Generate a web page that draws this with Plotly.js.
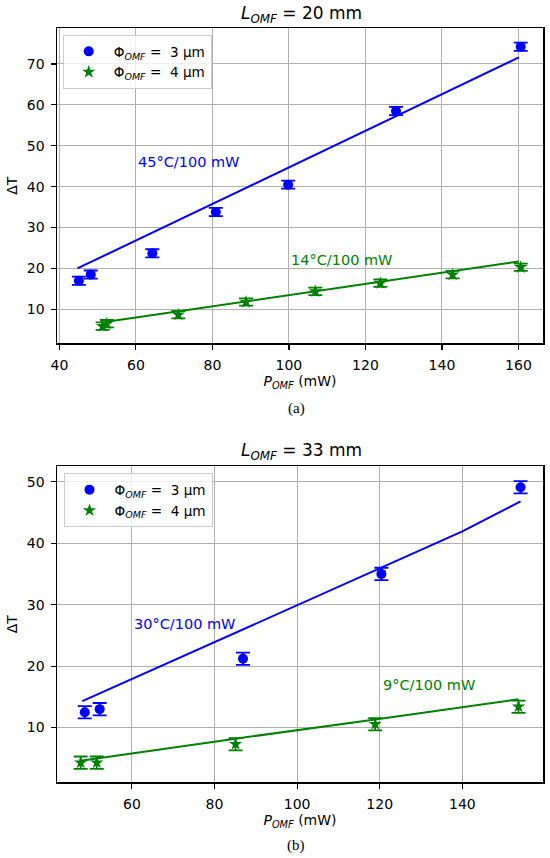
<!DOCTYPE html>
<html>
<head>
<meta charset="utf-8">
<script src="https://cdn.plot.ly/plotly-3.0.1.min.js"></script>
<style>html,body{margin:0;padding:0;background:#fff;}#chart{width:550px;height:858px;}</style>
</head>
<body>
<div id="chart"></div>
<script>
// ---------- data: L_OMF = 20 mm ----------
const p20_3   = [45.1, 48.2, 64.3, 80.9, 99.8, 128.0, 160.6];
const dt20_3  = [17.0, 18.5, 23.7, 33.8, 40.5, 58.5, 74.2];
const err20_3 = [1.0, 1.0, 1.0, 1.0, 1.0, 1.0, 1.0];
const p20_4   = [51.3, 52.4, 71.1, 88.8, 106.9, 123.9, 142.8, 160.6];
const dt20_4  = [5.9, 6.5, 8.7, 11.8, 14.4, 16.4, 18.5, 20.3];
const err20_4 = [0.9, 0.9, 0.9, 0.9, 0.9, 0.9, 0.9, 0.9];
const fitX20_3 = [44.7, 160.1];
const fitY20_3 = [20.0, 71.6];
const fitX20_4 = [51.9, 160.1];
const fitY20_4 = [6.9, 21.7];

// ---------- data: L_OMF = 33 mm ----------
const p33_3   = [48.6, 52.2, 86.9, 120.4, 154.1];
const dt33_3  = [12.5, 13.0, 21.2, 35.0, 49.1];
const err33_3 = [1.0, 1.0, 1.0, 1.0, 1.0];
const p33_4   = [47.6, 51.5, 85.1, 118.9, 153.6];
const dt33_4  = [4.3, 4.3, 7.3, 10.55, 13.4];
const err33_4 = [1.0, 1.0, 1.0, 1.0, 1.0];
const fitX33_3 = [48.0, 120.4, 140.0, 154.1];
const fitY33_3 = [14.3, 36.0, 41.9, 46.8];
const fitX33_4 = [47.6, 85.1, 118.9, 153.6];
const fitY33_4 = [4.6, 8.2, 11.3, 14.6];

// ---------- text ----------
const legendNames = ['Φ<sub><i>OMF</i></sub> =  3 µm', 'Φ<sub><i>OMF</i></sub> =  4 µm'];
const panelTitles = ['<i>L</i><sub><i>OMF</i></sub> = 20 mm', '<i>L</i><sub><i>OMF</i></sub> = 33 mm'];
const slopeLabels20 = ['45°C/100 mW', '14°C/100 mW'];
const slopeLabels33 = ['30°C/100 mW', '9°C/100 mW'];
const captions = ['(a)', '(b)'];
const xTitle = '<i>P</i><sub><i>OMF</i></sub> (mW)';
const yTitle = 'ΔT';

const BLUE = '#0000ff', GREEN = '#008000';
const FONT = 'DejaVu Sans, Arial, sans-serif';

function pts(x, y, e, color, symbol, size, name, xa, ya, leg) {
  return {
    x: x, y: y, type: 'scatter', mode: 'markers', name: name,
    xaxis: xa, yaxis: ya, legend: leg,
    marker: {color: color, symbol: symbol, size: size, line: {width: 0}},
    error_y: {type: 'data', array: e, visible: true, color: color, thickness: 1.8, width: 7}
  };
}
function fit(x, y, color, xa, ya) {
  return {x: x, y: y, type: 'scatter', mode: 'lines', showlegend: false,
    xaxis: xa, yaxis: ya, line: {color: color, width: 2}, hoverinfo: 'skip'};
}

const traces = [
  fit(fitX20_3, fitY20_3, BLUE, 'x', 'y'),
  fit(fitX20_4, fitY20_4, GREEN, 'x', 'y'),
  pts(p20_3, dt20_3, err20_3, BLUE, 'circle', 10, legendNames[0], 'x', 'y', 'legend'),
  pts(p20_4, dt20_4, err20_4, GREEN, 'star', 10, legendNames[1], 'x', 'y', 'legend'),
  fit(fitX33_3, fitY33_3, BLUE, 'x2', 'y2'),
  fit(fitX33_4, fitY33_4, GREEN, 'x2', 'y2'),
  pts(p33_3, dt33_3, err33_3, BLUE, 'circle', 10, legendNames[0], 'x2', 'y2', 'legend2'),
  pts(p33_4, dt33_4, err33_4, GREEN, 'star', 10, legendNames[1], 'x2', 'y2', 'legend2')
];

const W = 550, H = 858;
const xDom = [56.7 / W, 543.3 / W];
const yDomTop = [1 - 343.3 / H, 1 - 28 / H];
const yDomBot = [1 - 782.3 / H, 1 - 466 / H];
const TITLEFONT = {family: FONT, size: 14, color: '#000'};

function axis(extra) {
  return Object.assign({
    showline: true, mirror: true, linecolor: '#000', linewidth: 1.2,
    showgrid: true, gridcolor: '#b0b0b0', gridwidth: 1,
    zeroline: false, ticks: 'outside', ticklen: 5, tickwidth: 1.2, tickcolor: '#000',
    tickfont: {family: FONT, size: 14, color: '#000'}, automargin: false
  }, extra);
}

const legendStyle = {
  bgcolor: 'rgba(255,255,255,0.8)', bordercolor: '#cccccc', borderwidth: 1,
  font: {family: FONT, size: 13.6, color: '#000'}, xanchor: 'left', yanchor: 'top',
  tracegroupgap: 0, itemwidth: 40
};

const annFont = (c, s) => ({family: FONT, size: s, color: c});

const layout = {
  width: W, height: H,
  margin: {l: 0, r: 0, t: 0, b: 0},
  paper_bgcolor: '#fff', plot_bgcolor: '#fff',
  showlegend: true,
  xaxis: axis({domain: xDom, anchor: 'y', range: [39.3, 166.5], tick0: 40, dtick: 20, ticklabelstandoff: 4,
    title: {text: xTitle, font: TITLEFONT, standoff: 4}}),
  yaxis: axis({domain: yDomTop, anchor: 'x', range: [1.7, 78.8], tick0: 10, dtick: 10, ticklabelstandoff: 3,
    title: {text: yTitle, font: TITLEFONT, standoff: 6}}),
  xaxis2: axis({domain: xDom, anchor: 'y2', range: [41.8, 159.6], tick0: 60, dtick: 20, ticklabelstandoff: 4,
    title: {text: xTitle, font: TITLEFONT, standoff: 4}}),
  yaxis2: axis({domain: yDomBot, anchor: 'x2', range: [1.1, 52.55], tick0: 10, dtick: 10, ticklabelstandoff: 3,
    title: {text: yTitle, font: TITLEFONT, standoff: 6}}),
  legend: Object.assign({x: 62.7 / W, y: 1 - 35 / H}, legendStyle),
  legend2: Object.assign({x: 63.5 / W, y: 1 - 473.3 / H}, legendStyle),
  annotations: [
    {xref: 'paper', yref: 'paper', x: 301 / W, y: 1 - 14 / H, text: panelTitles[0], showarrow: false,
      xanchor: 'center', yanchor: 'middle', font: annFont('#000', 17)},
    {xref: 'paper', yref: 'paper', x: 301 / W, y: 1 - 451.7 / H, text: panelTitles[1], showarrow: false,
      xanchor: 'center', yanchor: 'middle', font: annFont('#000', 17)},
    {xref: 'x', yref: 'y', x: 60, y: 46.0, text: slopeLabels20[0], showarrow: false,
      xanchor: 'left', yanchor: 'middle', font: annFont(BLUE, 14.5)},
    {xref: 'x', yref: 'y', x: 100, y: 22.1, text: slopeLabels20[1], showarrow: false,
      xanchor: 'left', yanchor: 'middle', font: annFont(GREEN, 14.5)},
    {xref: 'x2', yref: 'y2', x: 60, y: 26.8, text: slopeLabels33[0], showarrow: false,
      xanchor: 'left', yanchor: 'middle', font: annFont(BLUE, 14.5)},
    {xref: 'x2', yref: 'y2', x: 120.2, y: 16.9, text: slopeLabels33[1], showarrow: false,
      xanchor: 'left', yanchor: 'middle', font: annFont(GREEN, 14.5)},
    {xref: 'paper', yref: 'paper', x: 296 / W, y: 1 - 408 / H, text: captions[0], showarrow: false,
      xanchor: 'center', yanchor: 'middle', font: {family: 'Liberation Serif, Times New Roman, serif', size: 15, color: '#000'}},
    {xref: 'paper', yref: 'paper', x: 296 / W, y: 1 - 845 / H, text: captions[1], showarrow: false,
      xanchor: 'center', yanchor: 'middle', font: {family: 'Liberation Serif, Times New Roman, serif', size: 15, color: '#000'}}
  ]
};

Plotly.newPlot('chart', traces, layout, {displayModeBar: false, responsive: false, staticPlot: true});
</script>
</body>
</html>
